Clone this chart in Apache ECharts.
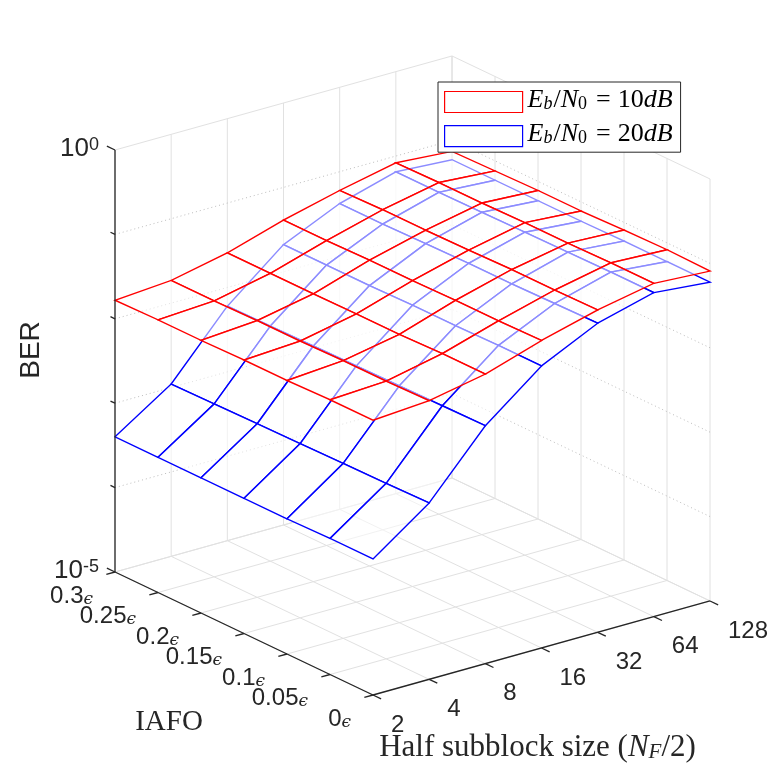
<!DOCTYPE html>
<html>
<head>
<meta charset="utf-8">
<style>
  html, body { margin: 0; padding: 0; background: #fff; }
  #main { width: 781px; height: 781px; }
</style>
<script src="https://cdn.jsdelivr.net/npm/echarts@6/dist/echarts.min.js"></script>
</head>
<body>
<div id="main"></div>
<script>
// x: half subblock size, y: IAFO (in units of epsilon), z: BER (log axis)
const subblockSizes = [2, 4, 8, 16, 32, 64, 128];
const iafoValues = [0, 0.05, 0.1, 0.15, 0.2, 0.25, 0.3];
const berDecades = [-5, -4, -3, -2, -1, 0];

// BER, one row per IAFO value, one column per subblock size
const ber10dB = [
  [0.018, 0.020, 0.027, 0.044, 0.066, 0.089, 0.081],
  [0.018, 0.0195, 0.027, 0.043, 0.065, 0.089, 0.083],
  [0.0174, 0.0195, 0.026, 0.043, 0.065, 0.087, 0.081],
  [0.0174, 0.019, 0.026, 0.042, 0.063, 0.087, 0.078],
  [0.017, 0.019, 0.0257, 0.042, 0.062, 0.085, 0.078],
  [0.017, 0.0186, 0.0257, 0.041, 0.062, 0.085, 0.076],
  [0.0166, 0.0186, 0.0257, 0.041, 0.060, 0.083, 0.074]
];
const ber20dB = [
  [4.1e-4, 1.23e-3, 6.6e-3, 0.022, 0.046, 0.069, 0.060],
  [4.1e-4, 1.2e-3, 6.5e-3, 0.022, 0.045, 0.069, 0.060],
  [4.0e-4, 1.18e-3, 6.4e-3, 0.0215, 0.044, 0.068, 0.060],
  [4.0e-4, 1.16e-3, 6.3e-3, 0.0215, 0.044, 0.067, 0.059],
  [4.0e-4, 1.14e-3, 6.2e-3, 0.021, 0.043, 0.066, 0.059],
  [4.0e-4, 1.12e-3, 6.1e-3, 0.021, 0.042, 0.065, 0.059],
  [4.0e-4, 1.10e-3, 6.0e-3, 0.021, 0.042, 0.065, 0.059]
];

// orthographic view: screen offset per x step, per IAFO step and per decade
const view = { ox: 373, oy: 695, ix: 56.17, iy: -15.67, jx: -43, jy: -20.5, zy: -84.4 };
const nI = subblockSizes.length - 1;
const nJ = iafoValues.length - 1;
const zLo = berDecades[0];
const zHi = berDecades[berDecades.length - 1];

function project(i, j, lz) {
  return [
    view.ox + i * view.ix + j * view.jx,
    view.oy + i * view.iy + j * view.jy + (lz - zLo) * view.zy
  ];
}

const sans = 'Liberation Sans, Arial, Helvetica, sans-serif';
const serif = 'Liberation Serif, Times New Roman, serif';
const ink = '#262626';

// quads sorted far -> near so nearer faces hide what is behind
function quadList(grid) {
  const list = [];
  for (let j = 0; j < nJ; j++) {
    for (let i = 0; i < nI; i++) {
      const lz = (Math.log10(grid[j][i]) + Math.log10(grid[j][i + 1]) +
                  Math.log10(grid[j + 1][i]) + Math.log10(grid[j + 1][i + 1])) / 4;
      const depth = 18146 * (i + 0.5) + 23702 * (j + 0.5) - 13141 * (lz - zLo);
      list.push([i, j, depth]);
    }
  }
  list.sort((a, b) => b[2] - a[2]);
  return list;
}

function surfaceSeries(name, grid, color, z) {
  const quads = quadList(grid);
  return {
    name: name,
    type: 'custom',
    coordinateSystem: 'cartesian2d',
    silent: true,
    z: z,
    itemStyle: { color: color },
    data: quads,
    renderItem: function (params, api) {
      const q = quads[params.dataIndex];
      const i = q[0], j = q[1];
      const pts = [[i, j], [i + 1, j], [i + 1, j + 1], [i, j + 1]].map(function (c) {
        return api.coord(project(c[0], c[1], Math.log10(grid[c[1]][c[0]])));
      });
      return {
        type: 'polygon',
        shape: { points: pts },
        style: { fill: 'rgba(255,255,255,0.55)', stroke: color, lineWidth: 1.4 }
      };
    }
  };
}

// box grid: 0 = solid grid, 1 = dotted minor grid
const boxSegs = [];
for (let i = 0; i <= nI; i++) boxSegs.push([i, 0, zLo, i, nJ, zLo, 0]);
for (let j = 0; j <= nJ; j++) boxSegs.push([0, j, zLo, nI, j, zLo, 0]);
for (let i = 0; i <= nI; i++) boxSegs.push([i, nJ, zLo, i, nJ, zHi, 0]);
for (let j = 0; j <= nJ; j++) boxSegs.push([nI, j, zLo, nI, j, zHi, 0]);
berDecades.forEach(function (z) {
  const kind = (z === zLo || z === zHi) ? 0 : 1;
  boxSegs.push([0, nJ, z, nI, nJ, z, kind]);
  boxSegs.push([nI, 0, z, nI, nJ, z, kind]);
});

// axis lines and ticks: point, tick direction (data space), tick length px
const axisSegs = [
  [0, nJ, zLo, 0, nJ, zHi],
  [0, 0, zLo, 0, nJ, zLo],
  [0, 0, zLo, nI, 0, zLo]
];
const ticks = [];
subblockSizes.forEach(function (s, i) { ticks.push([i, 0, zLo, 0, -1, 0, 9]); });
iafoValues.forEach(function (v, j) { ticks.push([0, j, zLo, -1, 0, 0, 9]); });
berDecades.forEach(function (z) {
  ticks.push([0, nJ, z, 0, 1, 0, (z === zLo || z === zHi) ? 9 : 5]);
});

// text labels
const labels = [];
subblockSizes.forEach(function (s, i) {
  labels.push({ at: [i, 0, zLo], dx: 18, dy: 30, text: String(s), align: 'left',
    fontSize: 24, fontFamily: sans });
});
iafoValues.forEach(function (v, j) {
  labels.push({ at: [0, j, zLo], dx: -22, dy: 24, text: '{n|' + v + '}{e|\u03f5}', align: 'right',
    fontSize: 24, fontFamily: sans });
});
[zLo, zHi].forEach(function (z) {
  labels.push({ at: [0, nJ, z], dx: -16, dy: -1, text: '{m|10}{s|' + z + '}', align: 'right',
    fontSize: 26, fontFamily: sans });
});
labels.push({ at: [0, nJ, (zLo + zHi) / 2], dx: -84, dy: -11, text: 'BER', align: 'center',
  fontSize: 28, fontFamily: sans, rotation: Math.PI / 2 });
labels.push({ at: [0, nJ / 2, zLo], dx: -75, dy: 89, text: 'IAFO', align: 'center',
  fontSize: 29, fontFamily: serif });
labels.push({ at: [nI / 2, 0, zLo], dx: -4, dy: 100,
  text: '{r|Half subblock size (}{i|N}{sub|F}{r|/2)}', align: 'center',
  fontSize: 31, fontFamily: serif });

const labelRich = {
  n: { fontSize: 24, fontFamily: sans, lineHeight: 24, verticalAlign: 'bottom', color: ink },
  e: { fontSize: 17, fontFamily: 'DejaVu Serif', fontStyle: 'italic', lineHeight: 18, verticalAlign: 'bottom', color: ink },
  m: { fontSize: 26, fontFamily: sans, lineHeight: 26, verticalAlign: 'top', color: ink },
  s: { fontSize: 18, fontFamily: sans, lineHeight: 2, verticalAlign: 'top', color: ink },
  r: { fontSize: 31, fontFamily: serif, lineHeight: 30, verticalAlign: 'bottom', color: ink },
  i: { fontSize: 31, fontFamily: serif, fontStyle: 'italic', lineHeight: 30, verticalAlign: 'bottom', color: ink },
  sub: { fontSize: 21, fontFamily: serif, fontStyle: 'italic', lineHeight: 12, verticalAlign: 'bottom', color: ink }
};

const legendRich = {
  i: { fontSize: 26, fontFamily: serif, fontStyle: 'italic', lineHeight: 22, verticalAlign: 'bottom', color: '#000' },
  r: { fontSize: 26, fontFamily: serif, lineHeight: 22, verticalAlign: 'bottom', color: '#000' },
  eq: { fontSize: 26, fontFamily: serif, lineHeight: 22, verticalAlign: 'bottom', color: '#000', padding: [0, 7, 0, 9] },
  si: { fontSize: 18, fontFamily: serif, fontStyle: 'italic', lineHeight: 10, verticalAlign: 'bottom', color: '#000', padding: [0, 1, 0, 0] },
  sr: { fontSize: 18, fontFamily: serif, lineHeight: 10, verticalAlign: 'bottom', color: '#000' }
};
const legendText = { '10dB': '10', '20dB': '20' };

const chart = echarts.init(document.getElementById('main'));

const option = {
  backgroundColor: '#fff',
  animation: false,
  grid: { left: 0, right: 0, top: 0, bottom: 0 },
  xAxis: { type: 'value', min: 0, max: 781, show: false },
  yAxis: { type: 'value', min: 0, max: 781, inverse: true, show: false },
  legend: {
    left: 438,
    top: 82,
    orient: 'vertical',
    backgroundColor: '#fff',
    borderColor: ink,
    borderWidth: 1,
    borderRadius: 0,
    padding: [5, 8, 5, 6],
    itemGap: 8,
    itemWidth: 78,
    itemHeight: 21,
    icon: 'rect',
    selectedMode: false,
    data: [
      { name: '10dB', itemStyle: { color: '#fff', borderColor: '#ff0000', borderWidth: 1.2 } },
      { name: '20dB', itemStyle: { color: '#fff', borderColor: '#0000ff', borderWidth: 1.2 } }
    ],
    formatter: function (name) {
      return '{i|E}{si|b}{r|/}{i|N}{sr|0}{eq|=}{r|' + legendText[name] + '}{i|dB}';
    },
    textStyle: { rich: legendRich }
  },
  series: [
    {
      type: 'custom',
      coordinateSystem: 'cartesian2d',
      silent: true,
      z: 1,
      data: boxSegs,
      renderItem: function (params, api) {
        const s = boxSegs[params.dataIndex];
        const a = api.coord(project(s[0], s[1], s[2]));
        const b = api.coord(project(s[3], s[4], s[5]));
        return {
          type: 'line',
          shape: { x1: a[0], y1: a[1], x2: b[0], y2: b[1] },
          style: s[6] === 0
            ? { stroke: '#e1e1e1', lineWidth: 1 }
            : { stroke: '#bdbdbd', lineWidth: 1, lineDash: [1, 3] }
        };
      }
    },
    surfaceSeries('20dB', ber20dB, '#0000ff', 2),
    surfaceSeries('10dB', ber10dB, '#ff0000', 3),
    {
      type: 'custom',
      coordinateSystem: 'cartesian2d',
      silent: true,
      z: 4,
      data: axisSegs.concat(ticks),
      renderItem: function (params, api) {
        const k = params.dataIndex;
        if (k < axisSegs.length) {
          const s = axisSegs[k];
          const a = api.coord(project(s[0], s[1], s[2]));
          const b = api.coord(project(s[3], s[4], s[5]));
          return {
            type: 'line',
            shape: { x1: a[0], y1: a[1], x2: b[0], y2: b[1] },
            style: { stroke: ink, lineWidth: 1.3 }
          };
        }
        const t = ticks[k - axisSegs.length];
        const p = api.coord(project(t[0], t[1], t[2]));
        const q = api.coord(project(t[0] + t[3], t[1] + t[4], t[2] + t[5]));
        const len = Math.hypot(q[0] - p[0], q[1] - p[1]);
        return {
          type: 'line',
          shape: {
            x1: p[0], y1: p[1],
            x2: p[0] + (q[0] - p[0]) / len * t[6],
            y2: p[1] + (q[1] - p[1]) / len * t[6]
          },
          style: { stroke: ink, lineWidth: 1.3 }
        };
      }
    },
    {
      type: 'custom',
      coordinateSystem: 'cartesian2d',
      silent: true,
      z: 5,
      data: labels.map(function (l, k) { return [k, 0]; }),
      renderItem: function (params, api) {
        const l = labels[params.dataIndex];
        const p = api.coord(project(l.at[0], l.at[1], l.at[2]));
        return {
          type: 'text',
          x: p[0] + l.dx,
          y: p[1] + l.dy,
          rotation: l.rotation || 0,
          style: {
            text: l.text,
            fill: ink,
            fontSize: l.fontSize,
            fontFamily: l.fontFamily,
            align: l.align,
            verticalAlign: 'middle',
            rich: labelRich
          }
        };
      }
    }
  ]
};

chart.setOption(option);
</script>
</body>
</html>
